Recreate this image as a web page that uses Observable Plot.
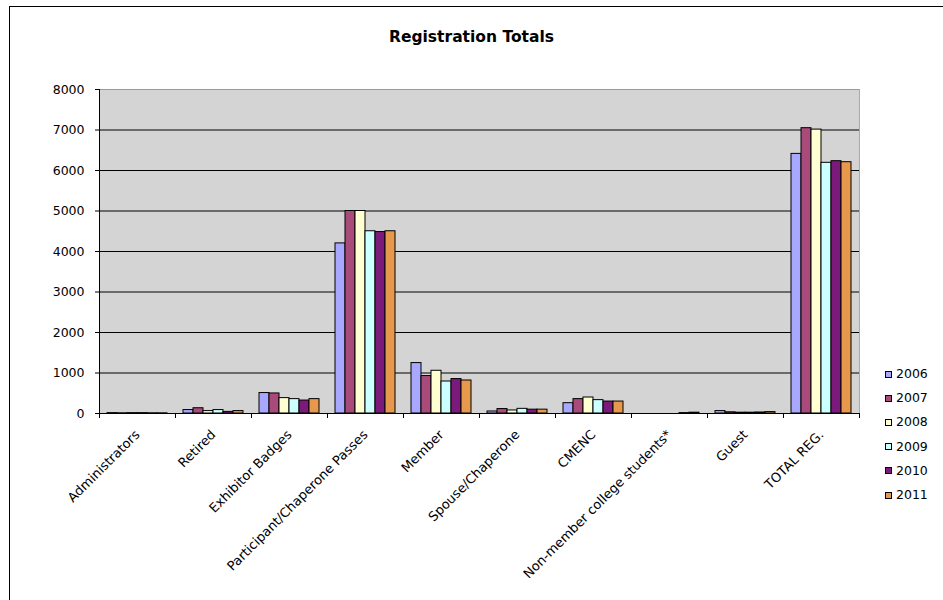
<!DOCTYPE html>
<html><head><meta charset="utf-8">
<script src="https://cdn.jsdelivr.net/npm/d3@7"></script>
<script src="https://cdn.jsdelivr.net/npm/@observablehq/plot@0.6"></script>
<style>
body{margin:0;background:#fff;font-family:"DejaVu Sans",Verdana,sans-serif;}
#wrap{position:relative;width:943px;height:600px;overflow:hidden;}
#border{position:absolute;left:9px;top:6px;width:980px;height:640px;border:1px solid #000;pointer-events:none;}
#title{position:absolute;top:28px;left:0;width:943px;text-align:center;font-weight:bold;font-size:15.5px;line-height:19px;}
#chart{position:absolute;left:0;top:0;}
#legend{position:absolute;left:885px;top:362px;font-size:12.5px;line-height:24.2px;}
.item{height:24.2px;display:flex;align-items:center;}
.sw{width:5px;height:5px;border:1px solid #000;margin-right:4px;}
</style></head>
<body><div id="wrap"><div id="border"></div><div id="title">Registration Totals</div><div id="chart"></div><div id="legend"></div></div>
<script>
const categories = ["Administrators", "Retired", "Exhibitor Badges", "Participant/Chaperone Passes", "Member", "Spouse/Chaperone", "CMENC", "Non-member college students*", "Guest", "TOTAL REG."];
const years = ["2006", "2007", "2008", "2009", "2010", "2011"];
const colors = ["#a8a8ff", "#a84a7a", "#ffffd2", "#ccffff", "#7b1a7b", "#e6994d"];
const v2006 = [10, 85, 505, 4200, 1245, 50, 255, 0, 60, 6410];
const v2007 = [5, 130, 495, 5000, 925, 110, 355, 0, 30, 7045];
const v2008 = [10, 60, 380, 5000, 1055, 75, 395, 0, 20, 7010];
const v2009 = [10, 85, 355, 4500, 790, 115, 330, 0, 20, 6190];
const v2010 = [5, 40, 320, 4480, 850, 95, 295, 10, 25, 6230];
const v2011 = [5, 60, 355, 4500, 815, 95, 295, 20, 35, 6205];
const yTicks = [0, 1000, 2000, 3000, 4000, 5000, 6000, 7000, 8000];

const series = [v2006, v2007, v2008, v2009, v2010, v2011];
const data = categories.flatMap((c, i) => years.map((y, j) => ({category: c, year: y, value: series[j][i]})));

const plot = Plot.plot({
  width: 943, height: 600,
  marginLeft: 99, marginRight: 84, marginTop: 89, marginBottom: 187,
  style: {fontFamily: "'DejaVu Sans', Verdana, sans-serif", fontSize: "12px", background: "transparent", color: "#000", overflow: "visible"},
  fx: {domain: categories, padding: 0, label: null},
  x: {domain: years, paddingInner: 0, paddingOuter: 0.75, axis: null},
  y: {domain: [0, 8000], label: null},
  color: {domain: years, range: colors},
  marks: [
    Plot.frame({facet: "super", fill: "#d4d4d4", stroke: "none"}),
    Plot.ruleY(yTicks.slice(1, -1), {stroke: "#000", strokeWidth: 1}),
    Plot.ruleY([yTicks[yTicks.length - 1]], {stroke: "#999", strokeWidth: 1}),
    Plot.frame({facet: "super", anchor: "right", stroke: "#aaa"}),
    Plot.barY(data, {fx: "category", x: "year", y: "value", fill: "year", stroke: "#000", strokeWidth: 1}),
    Plot.ruleY([0], {stroke: "#000", strokeWidth: 1.2}),
    Plot.frame({facet: "super", anchor: "left", stroke: "#000"}),
    Plot.axisY({ticks: yTicks, tickFormat: d => String(d), tickSize: 4, tickPadding: 11, fontSize: 12.5, stroke: "#000"}),
    Plot.axisFx({anchor: "bottom", text: null, tickSize: 5, dx: -38, stroke: "#000"}),
    Plot.axisFx({anchor: "bottom", ticks: [categories[categories.length - 1]], text: null, tickSize: 5, dx: 38, stroke: "#000"}),
    Plot.axisFx({anchor: "bottom", tickSize: 0, tickPadding: 19, tickRotate: -45, textAnchor: "end", fontSize: 13, dx: 0, label: null})
  ]
});
document.getElementById("chart").appendChild(plot);

const legend = document.getElementById("legend");
years.forEach((y, i) => {
  const item = document.createElement("div");
  item.className = "item";
  const sw = document.createElement("span");
  sw.className = "sw";
  sw.style.background = colors[i];
  item.appendChild(sw);
  item.appendChild(document.createTextNode(y));
  legend.appendChild(item);
});
</script>
</body></html>
